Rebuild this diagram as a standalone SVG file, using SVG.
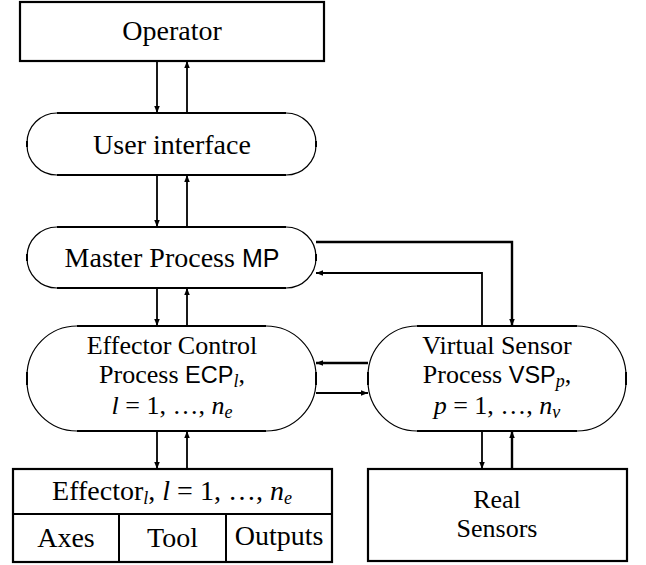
<svg xmlns="http://www.w3.org/2000/svg" width="646" height="565" viewBox="0 0 646 565">
<style>
text{font-family:'Liberation Serif','Times New Roman',serif;font-size:28px;fill:#000;text-anchor:middle}
text.m{font-size:26px}
.sf{font-family:'Liberation Sans',Arial,sans-serif;font-size:25px}
text.m .sf{font-size:23.5px}
.it{font-style:italic}
.sub{font-size:18px;font-style:italic}
.box{fill:#fff;stroke:#000;stroke-width:2.2}
.oval{fill:#fff;stroke:#000;stroke-width:1.2}
.edge{stroke:#000;stroke-width:2;fill:none}
.c{stroke:#000;stroke-width:1.8;fill:none;marker-end:url(#ah)}
.ct{stroke:#000;stroke-width:2.4;fill:none;marker-end:url(#ah)}
</style>
<defs>
<marker id="ah" markerUnits="userSpaceOnUse" markerWidth="8" markerHeight="6" refX="7" refY="2.75" orient="auto">
<path d="M0,0 L7,2.75 L0,5.5 z" fill="#000"/>
</marker>
</defs>
<rect width="646" height="565" fill="#fff"/>

<g id="operator">
<rect class="box" x="20" y="2" width="304" height="59"/>
<text x="172" y="40">Operator</text>
</g>

<g id="user-interface">
<path class="oval" d="M57,113 H286 A30,30 0 0 1 316,143 V145 A30,30 0 0 1 286,175 H57 A30,30 0 0 1 27,145 V143 A30,30 0 0 1 57,113 Z"/>
<path class="edge" d="M57,113 H286 M57,175 H286 M27,141 V147 M316,141 V147"/>
<text x="172" y="154">User interface</text>
</g>

<g id="master-process">
<path class="oval" d="M57,227 H286 A30,30 0 0 1 316,257 V258 A30,30 0 0 1 286,288 H57 A30,30 0 0 1 27,258 V257 A30,30 0 0 1 57,227 Z"/>
<path class="edge" d="M57,227 H286 M57,288 H286 M27,254 V261 M316,254 V261"/>
<text x="172" y="267">Master Process <tspan class="sf">MP</tspan></text>
</g>

<g id="ecp">
<path class="oval" d="M77,326 H266 A50,50 0 0 1 316,376 V381 A50,50 0 0 1 266,431 H77 A50,50 0 0 1 27,381 V376 A50,50 0 0 1 77,326 Z"/>
<path class="edge" d="M77,326 H266 M77,431 H266 M27,372 V385 M316,372 V385"/>
<text class="m" x="172" y="354">Effector Control</text>
<text class="m" x="172" y="383">Process <tspan class="sf">ECP</tspan><tspan class="sub" dy="4">l</tspan><tspan dy="-4">,</tspan></text>
<text class="m" x="172" y="414"><tspan class="it">l</tspan> = 1, …, <tspan class="it">n</tspan><tspan class="sub" dy="4">e</tspan></text>
</g>

<g id="vsp">
<path class="oval" d="M417,326 H577 A49,50 0 0 1 626,376 V381 A49,50 0 0 1 577,431 H417 A49,50 0 0 1 368,381 V376 A49,50 0 0 1 417,326 Z"/>
<path class="edge" d="M417,326 H577 M417,431 H577 M368,372 V385 M626,372 V385"/>
<text class="m" x="497" y="354">Virtual Sensor</text>
<text class="m" x="497" y="383">Process <tspan class="sf">VSP</tspan><tspan class="sub" dy="4">p</tspan><tspan dy="-4">,</tspan></text>
<text class="m" x="497" y="414"><tspan class="it">p</tspan> = 1, …, <tspan class="it">n</tspan><tspan class="sub" dy="4">v</tspan></text>
</g>

<g id="effector">
<rect class="box" x="13" y="469" width="319" height="93"/>
<path class="edge" d="M13,514 H332 M119,514 V562 M226,514 V562" stroke-width="2.2"/>
<text x="172" y="500">Effector<tspan class="sub" dy="4">l</tspan><tspan dy="-4">, </tspan><tspan class="it">l</tspan> = 1, …, <tspan class="it">n</tspan><tspan class="sub" dy="4">e</tspan></text>
<text x="66" y="547">Axes</text>
<text x="172.5" y="547">Tool</text>
<text x="279" y="545">Outputs</text>
</g>

<g id="real-sensors">
<rect class="box" x="368" y="469" width="259" height="92"/>
<text class="m" x="497" y="508">Real</text>
<text class="m" x="497" y="537">Sensors</text>
</g>

<g id="connectors">
<line class="c" x1="157" y1="61" x2="157" y2="113"/>
<line class="c" x1="187" y1="113" x2="187" y2="61"/>
<line class="c" x1="157" y1="175" x2="157" y2="227"/>
<line class="c" x1="187" y1="227" x2="187" y2="175"/>
<line class="c" x1="157" y1="288" x2="157" y2="326"/>
<line class="c" x1="187" y1="326" x2="187" y2="288"/>
<line class="c" x1="157" y1="431" x2="157" y2="469"/>
<line class="c" x1="187" y1="469" x2="187" y2="431"/>
<polyline class="ct" points="316,242 512,242 512,326"/>
<polyline class="c" points="482,326 482,273 316,273"/>
<line class="ct" x1="368" y1="363" x2="316" y2="363"/>
<line class="c" x1="316" y1="393" x2="368" y2="393"/>
<line class="c" x1="482" y1="431" x2="482" y2="469"/>
<line class="ct" x1="512" y1="469" x2="512" y2="431"/>
</g>
</svg>
